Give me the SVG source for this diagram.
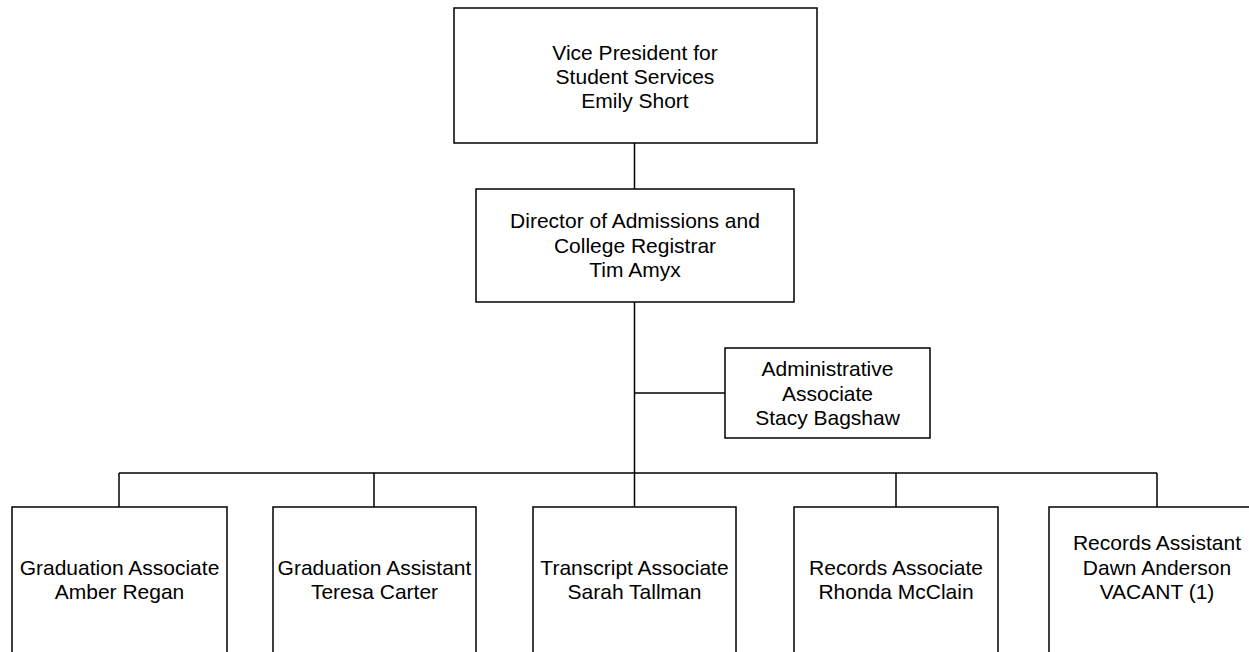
<svg xmlns="http://www.w3.org/2000/svg" width="1249" height="652" viewBox="0 0 1249 652">
<style>
.box{fill:#fff;stroke:#000;stroke-width:1.5}
.ln{fill:none;stroke:#000;stroke-width:1.5}
text{font-family:"Liberation Sans",Arial,sans-serif;font-size:21px;fill:#000;text-anchor:middle}
</style>
<rect width="1249" height="652" fill="#fff"/>
<g id="connectors">
<line class="ln" x1="634.5" y1="143" x2="634.5" y2="189"/>
<line class="ln" x1="634.5" y1="302" x2="634.5" y2="507"/>
<line class="ln" x1="634.5" y1="393" x2="725" y2="393"/>
<line class="ln" x1="119" y1="473" x2="1157" y2="473"/>
<line class="ln" x1="119" y1="473" x2="119" y2="507"/>
<line class="ln" x1="374" y1="473" x2="374" y2="507"/>
<line class="ln" x1="896" y1="473" x2="896" y2="507"/>
<line class="ln" x1="1157" y1="473" x2="1157" y2="507"/>
</g>
<g id="vp">
<rect class="box" x="454" y="8" width="363" height="135"/>
<text x="635" y="59.5">Vice President for</text>
<text x="635" y="83.5">Student Services</text>
<text x="635" y="107.5">Emily Short</text>
</g>
<g id="director">
<rect class="box" x="476" y="189" width="318" height="113"/>
<text x="635" y="228">Director of Admissions and</text>
<text x="635" y="252.5">College Registrar</text>
<text x="635" y="277">Tim Amyx</text>
</g>
<g id="admin">
<rect class="box" x="725" y="348" width="205" height="90"/>
<text x="827.5" y="376">Administrative</text>
<text x="827.5" y="400.5">Associate</text>
<text x="827.5" y="425">Stacy Bagshaw</text>
</g>
<g id="grad-associate">
<rect class="box" x="12" y="507" width="215" height="160"/>
<text x="119.5" y="574.5">Graduation Associate</text>
<text x="119.5" y="599">Amber Regan</text>
</g>
<g id="grad-assistant">
<rect class="box" x="273" y="507" width="203" height="160"/>
<text x="374.5" y="574.5">Graduation Assistant</text>
<text x="374.5" y="599">Teresa Carter</text>
</g>
<g id="transcript">
<rect class="box" x="533" y="507" width="203" height="160"/>
<text x="634.5" y="574.5">Transcript Associate</text>
<text x="634.5" y="599">Sarah Tallman</text>
</g>
<g id="records-associate">
<rect class="box" x="794" y="507" width="204" height="160"/>
<text x="896" y="574.5">Records Associate</text>
<text x="896" y="599">Rhonda McClain</text>
</g>
<g id="records-assistant">
<rect class="box" x="1049" y="507" width="216" height="160"/>
<text x="1157" y="550">Records Assistant</text>
<text x="1157" y="574.5">Dawn Anderson</text>
<text x="1157" y="599">VACANT (1)</text>
</g>
</svg>
